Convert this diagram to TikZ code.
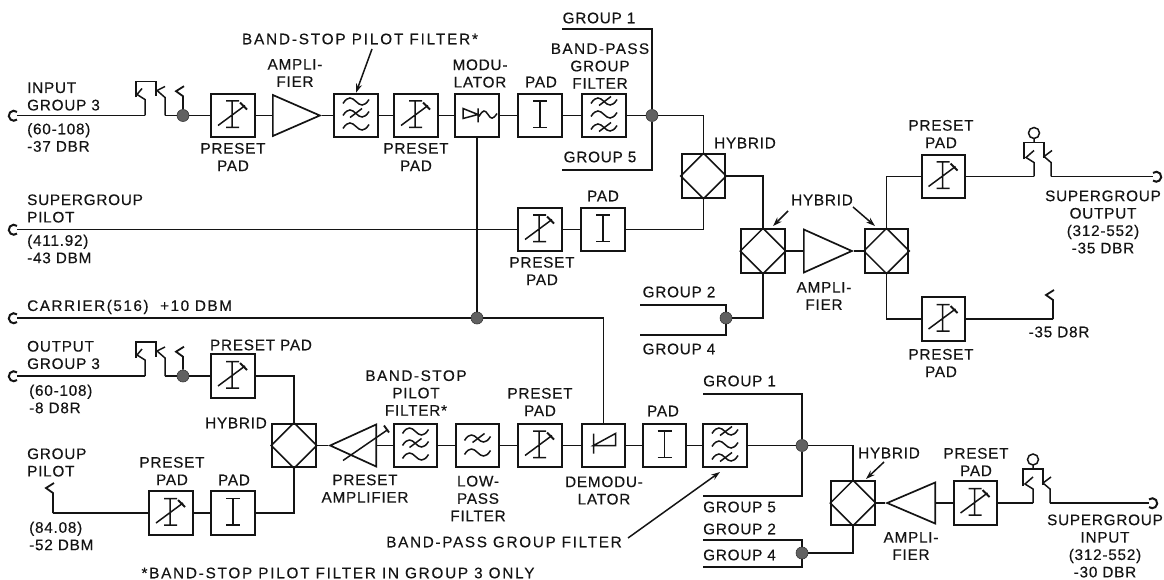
\documentclass[tikz,border=0pt]{standalone}
\usepackage{fontspec}
\setmainfont[LetterSpace=5,FakeBold=0.35]{Liberation Sans}
\usetikzlibrary{calc,shapes.geometric,arrows.meta}
\definecolor{ink}{HTML}{141414}
\newcommand\wider[1]{\addfontfeatures{LetterSpace=#1}}
\tikzset{
  wire/.style={draw=ink,line width=1.8pt},
  sym/.style={draw=ink,line width=1.5pt},
  blockbox/.style={draw=ink,line width=1.9pt,rectangle,minimum size=43.5pt,inner sep=0pt},
  ampl/.style={draw=ink,line width=1.7pt,isosceles triangle,isosceles triangle stretches,inner sep=0pt,anchor=lower side},
  junction/.style={circle,fill=black!62,draw=black!78,line width=.6pt,minimum size=12pt,inner sep=0pt},
  lab/.style={font=\fontsize{15.3}{17.4}\selectfont,text=ink,align=center,inner sep=0pt},
  labl/.style={lab,align=left,anchor=west},
  pointer/.style={draw=ink,line width=1.5pt,-{Stealth[length=9pt,width=6pt]}}
}
\newcommand\padsym[1]{\begin{scope}[shift={(#1.center)}]
  \draw[sym] (-7,-14.5)--(7,-14.5) (0,-14.5)--(0,12) (-7,12)--(7,12);\end{scope}}
\newcommand\presetsym[1]{\begin{scope}[shift={(#1.center)}]
  \draw[sym] (-7,-14.5)--(6,-14.5) (-1,-14.5)--(-1,12) (-7,12)--(6,12) (-15,10)--(12,-10);
  \draw[sym,line width=1.9pt] (7,-13)--(14,-6);\end{scope}}
\newcommand\wv[2]{\draw[sym] (#1-13,#2+2) .. controls (#1-8,#2-6) and (#1-4,#2-4) .. (#1,#2) .. controls (#1+4,#2+4) and (#1+8,#2+6) .. (#1+13,#2-2);}
\newcommand\slashsym[2]{\draw[sym] (#1-6,#2+4)--(#1+6,#2-5);}
\newcommand\bsfsym[1]{\begin{scope}[shift={(#1.center)}]\wv{0}{-14}\wv{0}{-2}\wv{0}{11}\slashsym{0}{-2}\end{scope}}
\newcommand\bpfsym[1]{\begin{scope}[shift={(#1.center)}]\wv{0}{-14}\wv{0}{-1}\wv{0}{12}\slashsym{1}{-14}\slashsym{1}{12}\end{scope}}
\newcommand\lpfsym[1]{\begin{scope}[shift={(#1.center)}]\wv{0}{-7}\wv{0}{7}\slashsym{1}{-7}\end{scope}}
\newcommand\modsym[1]{\begin{scope}[shift={(#1.center)}]
  \draw[sym] (-14,-7)--(-14,3)--(1,-1)--cycle (1,-7)--(1,7);
  \draw[sym] (2,1) .. controls (6,-6) and (8,-6) .. (11,-1) .. controls (14,4) and (16,4) .. (20,-2);\end{scope}}
\newcommand\demsym[1]{\begin{scope}[shift={(#1.center)}]
  \draw[sym] (-10,-12)--(-10,8) (-10,0)--(12,-12)--(12,0)--cycle;\end{scope}}
\newcommand\hybsym[1]{\draw[sym] (#1.north)--(#1.east)--(#1.south)--(#1.west)--cycle;}
% left jack: #1 name, #2 x of contact A, #3 line level
\newcommand\jackL[3]{\begin{scope}[shift={(#2,#3)}]
  \draw[sym] (-8,-18)--(-8,-34)--(12,-34)--(12,-19);
  \draw[sym] (-2,-27)--(-7,-21)--(1,-16)--(1,0);
  \draw[sym] (21,-29)--(13,-25)--(21,-18)--(21,0);
  \coordinate (#1a) at (1,0); \coordinate (#1b) at (21,0);
  \end{scope}}
% right jack with sleeve
\newcommand\jackR[3]{\begin{scope}[shift={(#2,#3)}]
  \draw[sym] (-10,-17)--(-10,-34)--(10,-34)--(10,-18);
  \draw[sym] (0,-26)--(-8,-19)--(0,-14)--(0,0);
  \draw[sym] (18,-26)--(10,-20)--(17,-14)--(17,0);
  \draw[sym] (0,-34)--(0,-38) (0,-43.5) circle (5.5);
  \coordinate (#1a) at (0,0); \coordinate (#1b) at (17,0);
  \end{scope}}
\newcommand\hooksym[2]{\draw[wire] (#1) --++(0,-#2)--++(-7,-5)--++(8,-5);}
\begin{document}
\begin{tikzpicture}[x=1pt,y=-1pt]
\useasboundingbox (0,0) rectangle (1164,580);

% ---- blocks, row 1
\node[blockbox] (pp1) at (233,115.5) {};
\node[ampl,minimum width=41pt,minimum height=47pt] (a1) at (272,115.5) {};
\node[blockbox] (f1) at (356,115.5) {};
\node[blockbox] (pp2) at (416,115.5) {};
\node[blockbox] (mod) at (477,115.5) {};
\node[blockbox] (pad1) at (540,115.5) {};
\node[blockbox] (f2) at (604,115.5) {};
\node[junction] (d1) at (183,115.5) {};
\node[junction] (d2) at (652,115.5) {};
% ---- upper right
\node[blockbox] (h1) at (703.5,176) {};
\node[blockbox] (pp3) at (540,229.5) {};
\node[blockbox] (pad2) at (603,229.5) {};
\node[blockbox] (h2) at (763,251) {};
\node[ampl,minimum width=43pt,minimum height=48pt] (a2) at (803,251) {};
\node[blockbox] (h3) at (886.5,251) {};
\node[blockbox] (pp4) at (943.5,176.5) {};
\node[blockbox] (pp5) at (943.5,319) {};
\node[junction] (d3) at (726,318) {};
\node[junction] (d4) at (477,318) {};
% ---- lower left
\node[junction] (d5) at (183,376) {};
\node[blockbox] (pp6) at (233,376) {};
\node[blockbox] (h4) at (294,445.5) {};
\node[blockbox] (pp7) at (171,513) {};
\node[blockbox] (pad3) at (233,513) {};
\node[ampl,shape border rotate=180,minimum width=42pt,minimum height=46pt] (a4) at (377,445.5) {};
\node[blockbox] (f3) at (415.5,445.5) {};
\node[blockbox] (f4) at (477.5,445.5) {};
\node[blockbox] (pp8) at (540,445.5) {};
\node[blockbox] (dem) at (603.5,445.5) {};
\node[blockbox] (pad4) at (664.5,445.5) {};
\node[blockbox] (f5) at (725,445.5) {};
\node[junction] (d6) at (802,445.5) {};
% ---- lower right
\node[blockbox] (h5) at (853,503) {};
\node[ampl,shape border rotate=180,minimum width=41pt,minimum height=48pt] (a3) at (936,503) {};
\node[blockbox] (pp9) at (975.5,503) {};
\node[junction] (d7) at (802,553) {};

% ---- symbols
\presetsym{pp1}\presetsym{pp2}\presetsym{pp3}\presetsym{pp4}\presetsym{pp5}
\presetsym{pp6}\presetsym{pp7}\presetsym{pp8}\presetsym{pp9}
\padsym{pad1}\padsym{pad2}\padsym{pad3}\padsym{pad4}
\hybsym{h1}\hybsym{h2}\hybsym{h3}\hybsym{h4}\hybsym{h5}
\bsfsym{f1}\bsfsym{f3}\bpfsym{f2}\bpfsym{f5}\lpfsym{f4}
\modsym{mod}\demsym{dem}
\draw[sym] ($(a4.lower side)+(-34,15)$)--($(a4.lower side)+(11,-16)$);
\draw[sym,line width=1.9pt] ($(a4.lower side)+(7,-20)$)--($(a4.lower side)+(12,-13)$);

% ---- jacks and free ends
\jackL{j1}{144}{115.5}
\jackL{j3}{144}{376}
\jackR{j2}{1034}{176.5}
\jackR{j4}{1033}{503}
\coordinate (t1) at (17,115.5);
\coordinate (t2) at (17,229.5);
\coordinate (t4) at (17,318);
\coordinate (t5) at (17,376);
\coordinate (t3) at (1153,176.5);
\coordinate (t6) at (1149,503);
\draw[wire,line width=2pt] ($(t1)+(0,-3.6)$) arc[start angle=-50,end angle=-310,radius=5];
\draw[wire,line width=2pt] ($(t2)+(0,-3.6)$) arc[start angle=-50,end angle=-310,radius=5];
\draw[wire,line width=2pt] ($(t4)+(0,-3.6)$) arc[start angle=-50,end angle=-310,radius=5];
\draw[wire,line width=2pt] ($(t5)+(0,-3.6)$) arc[start angle=-50,end angle=-310,radius=5];
\draw[wire,line width=2pt] ($(t3)+(0,-3.6)$) arc[start angle=-130,end angle=130,radius=5];
\draw[wire,line width=2pt] ($(t6)+(0,-3.6)$) arc[start angle=-130,end angle=130,radius=5];

% ---- row 1 wires
\draw[wire] (t1)--(j1a);
\draw[wire] (j1b)--(d1.west);
\hooksym{d1.north}{13}
\draw[wire] (d1.east)--(pp1.west);
\draw[wire] (pp1.east)--(a1.lower side);
\draw[wire] (a1.apex)--(f1.west);
\draw[wire] (f1.east)--(pp2.west);
\draw[wire] (pp2.east)--(mod.west);
\draw[wire] (mod.east)--(pad1.west);
\draw[wire] (pad1.east)--(f2.west);
\draw[wire] (f2.east)--(d2.west);
\draw[wire] (d2.east)-|(h1.north);
\coordinate (g1a) at (562,29);
\coordinate (g5a) at (562,170);
\draw[wire] (g1a)-|(d2.north);
\draw[wire] (g5a)-|(d2.south);
% ---- upper right wires
\draw[wire] (h1.east)-|(h2.north);
\draw[wire] (t2)--(pp3.west);
\draw[wire] (pp3.east)--(pad2.west);
\draw[wire] (pad2.east)-|(h1.south);
\draw[wire] (h2.east)--(a2.lower side);
\draw[wire] (a2.apex)--(h3.west);
\draw[wire] (h3.north)|-(pp4.west);
\draw[wire] (pp4.east)--(j2a);
\draw[wire] (j2b)--(t3);
\draw[wire] (h3.south)|-(pp5.west);
\coordinate (hk1) at (1053,319);
\draw[wire] (pp5.east)--(hk1);
\hooksym{hk1}{19}
\draw[wire] (h2.south)|-(d3.east);
\coordinate (g2a) at (640,305);
\coordinate (g4a) at (640,335);
\draw[wire] (g2a)-|(d3.north);
\draw[wire] (g4a)-|(d3.south);
% ---- carrier
\draw[wire] (t4)--(d4.west);
\draw[wire] (mod.south)--(d4.north);
\draw[wire] (d4.east)-|(dem.north);
% ---- lower left wires
\draw[wire] (t5)--(j3a);
\draw[wire] (j3b)--(d5.west);
\hooksym{d5.north}{13}
\draw[wire] (d5.east)--(pp6.west);
\draw[wire] (pp6.east)-|(h4.north);
\draw[wire] (h4.east)--(a4.apex);
\draw[wire] (a4.lower side)--(f3.west);
\draw[wire] (f3.east)--(f4.west);
\draw[wire] (f4.east)--(pp8.west);
\draw[wire] (pp8.east)--(dem.west);
\draw[wire] (dem.east)--(pad4.west);
\draw[wire] (pad4.east)--(f5.west);
\draw[wire] (f5.east)--(d6.west);
\draw[wire] (pad3.east)-|(h4.south);
\draw[wire] (pp7.east)--(pad3.west);
\coordinate (hk2) at (53,513);
\draw[wire] (pp7.west)--(hk2);
\hooksym{hk2}{20}
% ---- lower right wires
\coordinate (g1b) at (703,394);
\coordinate (g5b) at (703,496);
\coordinate (g2b) at (703,540);
\coordinate (g4b) at (703,567);
\draw[wire] (g1b)-|(d6.north);
\draw[wire] (g5b)-|(d6.south);
\draw[wire] (d6.east)-|(h5.north);
\draw[wire] (h5.south)|-(d7.east);
\draw[wire] (g2b)-|(d7.north);
\draw[wire] (g4b)-|(d7.south);
\draw[wire] (h5.east)--(a3.apex);
\draw[wire] (a3.lower side)--(pp9.west);
\draw[wire] (pp9.east)--(j4a);
\draw[wire] (j4b)--(t6);

% ---- pointers
\coordinate (p1) at (372,49);
\draw[pointer] (p1)--(f1.north);
\coordinate (p2a) at (788,211); \coordinate (p2b) at (773,226);
\draw[pointer] (p2a)--(p2b);
\coordinate (p3a) at (853,207); \coordinate (p3b) at (875,226);
\draw[pointer] (p3a)--(p3b);
\coordinate (p4a) at (884,462); \coordinate (p4b) at (866,479);
\draw[pointer] (p4a)--(p4b);
\coordinate (p5a) at (628,538); \coordinate (p5b) at (720,472);
\draw[pointer] (p5a)--(p5b);

% ---- labels
\node[labl] (l01) at (27,96.5) {INPUT\\GROUP 3};
\node[labl] (l02) at (27,137.5) {(60-108)\\-37 DBR};
\node[lab] (l03) at (233,157) {PRESET\\PAD};
\node[lab] (l04) at (295,73) {AMPLI-\\FIER};
\node[lab] (l05) at (360,39) {\wider{12}BAND-STOP PILOT FILTER*};
\node[lab] (l06) at (416,157) {PRESET\\PAD};
\node[lab] (l07) at (480,73.5) {MODU-\\LATOR};
\node[lab] (l08) at (541,82) {PAD};
\node[lab] (l09) at (600,66) {\wider{9}BAND-PASS\\GROUP\\FILTER};
\node[lab] (l10) at (599,18) {GROUP 1};
\node[lab] (l11) at (600,157) {GROUP 5};
\node[lab] (l12) at (745,143) {HYBRID};
\node[labl] (l13) at (27,208.5) {SUPERGROUP\\PILOT};
\node[labl] (l14) at (27,249) {(411.92)\\-43 DBM};
\node[lab] (l15) at (603,196) {PAD};
\node[lab] (l16) at (542,271) {PRESET\\PAD};
\node[labl] (l17) at (27,307) {\wider{10}CARRIER(516) \ +10 DBM};
\node[lab] (l18) at (679,292) {GROUP 2};
\node[lab] (l19) at (679,349) {GROUP 4};
\node[lab] (l20) at (822,200) {HYBRID};
\node[lab] (l21) at (941,134) {PRESET\\PAD};
\node[lab] (l22) at (1103,222) {SUPERGROUP\\OUTPUT\\(312-552)\\-35 DBR};
\node[lab] (l23) at (824,296) {AMPLI-\\FIER};
\node[lab] (l24) at (1059,332) {-35 D8R};
\node[lab] (l25) at (941,363) {PRESET\\PAD};
\node[labl] (l26) at (27,355) {OUTPUT\\GROUP 3};
\node[labl] (l27) at (29,399) {(60-108)\\-8 D8R};
\node[lab] (l28) at (261,345) {PRESET PAD};
\node[lab] (l29) at (236,423) {HYBRID};
\node[labl] (l30) at (27,462.5) {GROUP\\PILOT};
\node[labl] (l31) at (29,536) {(84.08)\\-52 DBM};
\node[lab] (l32) at (172,471) {PRESET\\PAD};
\node[lab] (l33) at (234,480) {PAD};
\node[lab] (l34) at (365,488.5) {PRESET\\AMPLIFIER};
\node[lab] (l35) at (416,393) {\wider{10}BAND-STOP\\PILOT\\FILTER*};
\node[lab] (l36) at (478,498.5) {LOW-\\PASS\\FILTER};
\node[lab] (l37) at (540,402) {PRESET\\PAD};
\node[lab] (l38) at (604,490.5) {DEMODU-\\LATOR};
\node[lab] (l39) at (663,411) {PAD};
\node[lab] (l40) at (504,542) {\wider{11}BAND-PASS GROUP FILTER};
\node[lab] (l41) at (338,573) {\wider{11.5}*BAND-STOP PILOT FILTER IN GROUP 3 ONLY};
\node[labl] (l42) at (703,381) {GROUP 1};
\node[labl] (l43) at (703,507) {GROUP 5};
\node[labl] (l44) at (703,529) {GROUP 2};
\node[labl] (l45) at (703,555) {GROUP 4};
\node[lab] (l46) at (889,453) {HYBRID};
\node[lab] (l47) at (976,462) {PRESET\\PAD};
\node[lab] (l48) at (911,546) {AMPLI-\\FIER};
\node[lab] (l49) at (1105,546) {SUPERGROUP\\INPUT\\(312-552)\\-30 DBR};
\end{tikzpicture}
\end{document}
